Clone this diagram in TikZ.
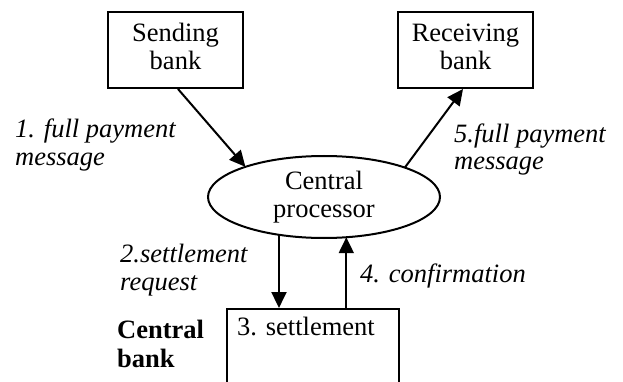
\documentclass[tikz,border=0pt]{standalone}
\usepackage{fontspec}
\setmainfont{Liberation Serif}
\usetikzlibrary{shapes.geometric,arrows.meta}
\newcommand{\boxtext}[1]{\raisebox{4pt}{\begin{tabular}{@{}c@{}}#1\end{tabular}}}
\begin{document}
\begin{tikzpicture}[x=1pt,y=-1pt,
  every node/.style={font=\fontsize{26.5}{27.5}\selectfont},
  bankbox/.style={draw,line width=2pt,minimum width=135pt,minimum height=76pt,inner sep=0pt,align=center},
  procell/.style={draw,ellipse,line width=2pt,minimum width=232pt,minimum height=82pt,inner sep=0pt,outer sep=0pt,align=center},
  lbl/.style={inner sep=0pt,anchor=base west,align=left,font=\fontsize{26.5}{27.5}\selectfont\itshape},
  arr/.style={line width=2pt,-{Triangle[length=16pt,width=15pt]}}
]
\useasboundingbox (0,0) rectangle (623,382);
\clip (0,0) rectangle (623,382);
\node[bankbox] (send) at (175.5,50) {\boxtext{Sending\\bank}};
\node[bankbox] (recv) at (465.5,50) {\boxtext{Receiving\\bank}};
\node[procell] (proc) at (324,197) {Central\\processor};
\node[draw,line width=2pt,minimum width=172pt,minimum height=90pt,inner sep=0pt,anchor=north west] (cb) at (226,308) {};
\node[inner sep=0pt,anchor=base west] (settle) at (237,335) {3. settlement};
\node[inner sep=0pt,anchor=base west,align=left,font=\fontsize{26.5}{28.5}\selectfont\bfseries] (cbl) at (117,367) {Central\\bank};
\node[lbl] (l1) at (15,165) {1. full payment\\message};
\node[lbl] (l5) at (454,170) {5.full payment\\message};
\node[lbl] (l2) at (120,290) {2.settlement\\request};
\node[lbl] (l4) at (360,282) {4. confirmation};
\draw[arr] ([xshift=2.5pt]send.south) -- (proc.159.9);
\draw[arr] (proc.20.3) -- ([xshift=-2.5pt]recv.south);
\draw[arr] (proc.220.7) -- (proc.220.7 |- cb.north);
\draw[arr] (proc.299.8 |- cb.north) -- (proc.299.8);
\end{tikzpicture}
\end{document}
